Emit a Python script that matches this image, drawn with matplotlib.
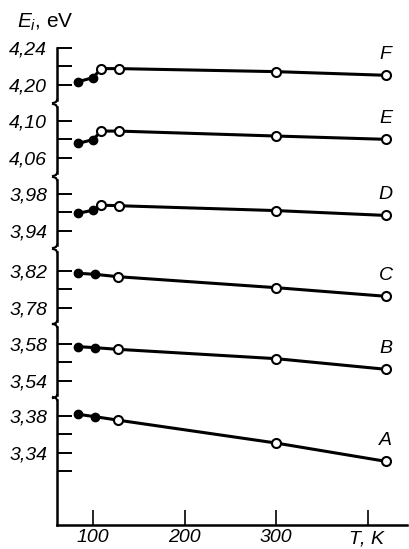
import matplotlib
matplotlib.use("Agg")
import matplotlib.pyplot as plt
from matplotlib.lines import Line2D
import numpy as np

# ---------------- data ----------------
T_upper = [84, 100, 109, 128, 300, 420]   # curves D, E, F
T_lower = [84, 102, 127, 300, 420]        # curves A, B, C
E_F = [4.2033, 4.2076, 4.2175, 4.2175, 4.2142, 4.2102]
E_E = [4.0756, 4.0797, 4.0890, 4.0890, 4.0836, 4.0800]
E_D = [3.9590, 3.9623, 3.9678, 3.9672, 3.9619, 3.9566]
E_C = [3.8175, 3.8164, 3.8138, 3.8018, 3.7924]
E_B = [3.5771, 3.5760, 3.5742, 3.5640, 3.5524]
E_A = [3.3818, 3.3793, 3.3755, 3.3505, 3.3305]
n_filled = 2
curve_labels = ["F", "E", "D", "C", "B", "A"]
y_ticks = [[4.20, 4.22, 4.24], [4.06, 4.08, 4.10], [3.94, 3.96, 3.98],
           [3.78, 3.80, 3.82], [3.54, 3.56, 3.58], [3.32, 3.34, 3.36, 3.38]]
y_tick_labels = [["4,20", "", "4,24"], ["4,06", "", "4,10"], ["3,94", "", "3,98"],
                 ["3,78", "", "3,82"], ["3,54", "", "3,58"], ["", "3,34", "", "3,38"]]
x_ticks = [100, 200, 300, 400]
x_tick_labels = ["100", "200", "300", "$T$, K"]

# ---------------- layout ----------------
W, H = 409, 549
fig = plt.figure(figsize=(W / 100, H / 100), dpi=100)
fig.patch.set_facecolor("white")
plt.rcParams["mathtext.fontset"] = "custom"
plt.rcParams["mathtext.it"] = "Liberation Sans:italic"
plt.rcParams["mathtext.rm"] = "Liberation Sans"

px_per_eV = 916.0
# (top px, bottom px, value at reference tick, px of reference tick)
panels = [(48, 100, 4.24, 48), (107, 173, 4.10, 121), (180, 245, 3.98, 194),
          (252, 321, 3.82, 271), (327, 395, 3.58, 344), (400, 525, 3.38, 416)]
series = [(T_upper, E_F), (T_upper, E_E), (T_upper, E_D),
          (T_lower, E_C), (T_lower, E_B), (T_lower, E_A)]

x_left_px, x_right_px = 57, 407
T_at_left = 100 + (x_left_px - 93) / 0.915
T_at_right = 100 + (x_right_px - 93) / 0.915

tick_font = dict(family=["Liberation Sans", "DejaVu Sans"], style="italic", size=14)
lab_font = dict(family=["Liberation Sans", "DejaVu Sans"], style="italic", size=14)

axes = []
for i, ((top, bot, vref, pref), (T, E)) in enumerate(zip(panels, series)):
    ax = fig.add_axes([x_left_px / W, 1 - bot / H, (x_right_px - x_left_px) / W, (bot - top) / H])
    ax.set_facecolor("none")
    ytop = vref + (pref - top) / px_per_eV
    ybot = ytop - (bot - top) / px_per_eV
    ax.set_ylim(ybot, ytop)
    ax.set_xlim(T_at_left, T_at_right)
    for s in ["top", "right"]:
        ax.spines[s].set_visible(False)
    ax.spines["left"].set_linewidth(1.8)
    if i < 5:
        ax.spines["bottom"].set_visible(False)
        ax.set_xticks([])
    else:
        ax.spines["bottom"].set_linewidth(1.8)
        ax.set_xticks(x_ticks)
        ax.set_xticklabels(x_tick_labels, **tick_font)
        ax.tick_params(axis="x", direction="in", length=11, width=1.2, pad=3)
    ax.set_yticks(y_ticks[i])
    ax.set_yticklabels(y_tick_labels[i], **tick_font)
    ax.tick_params(axis="y", direction="in", length=11, width=1.4, pad=7)

    ax.plot(T, E, color="black", lw=2.2, zorder=2)
    ax.plot(T[:n_filled], E[:n_filled], "o", ms=6, color="black", zorder=3)
    ax.plot(T[n_filled:], E[n_filled:], "o", ms=6.5, mfc="white", mec="black", mew=1.5, zorder=3)
    ax.annotate(curve_labels[i], xy=(T[-1], E[-1]), xytext=(0, 9), textcoords="offset points",
                ha="center", va="bottom", **lab_font)
    axes.append(ax)

# break marks between panels
for i in range(5):
    bot = panels[i][1]
    top = panels[i + 1][0]
    x0 = x_left_px
    xs = np.array([x0, x0 - 1, x0 - 4])
    fig.add_artist(Line2D(xs / W, 1 - np.array([bot, bot + 2, bot + 3]) / H,
                          color="black", lw=1.5, transform=fig.transFigure))
    fig.add_artist(Line2D(xs / W, 1 - np.array([top, top - 2, top - 3]) / H,
                          color="black", lw=1.5, transform=fig.transFigure))

fig.text(17 / W, 1 - 22 / H, "$E_i$, eV", ha="left", va="center", fontsize=15,
         family="Liberation Sans")

fig.savefig("out.png", dpi=100, facecolor="white")
